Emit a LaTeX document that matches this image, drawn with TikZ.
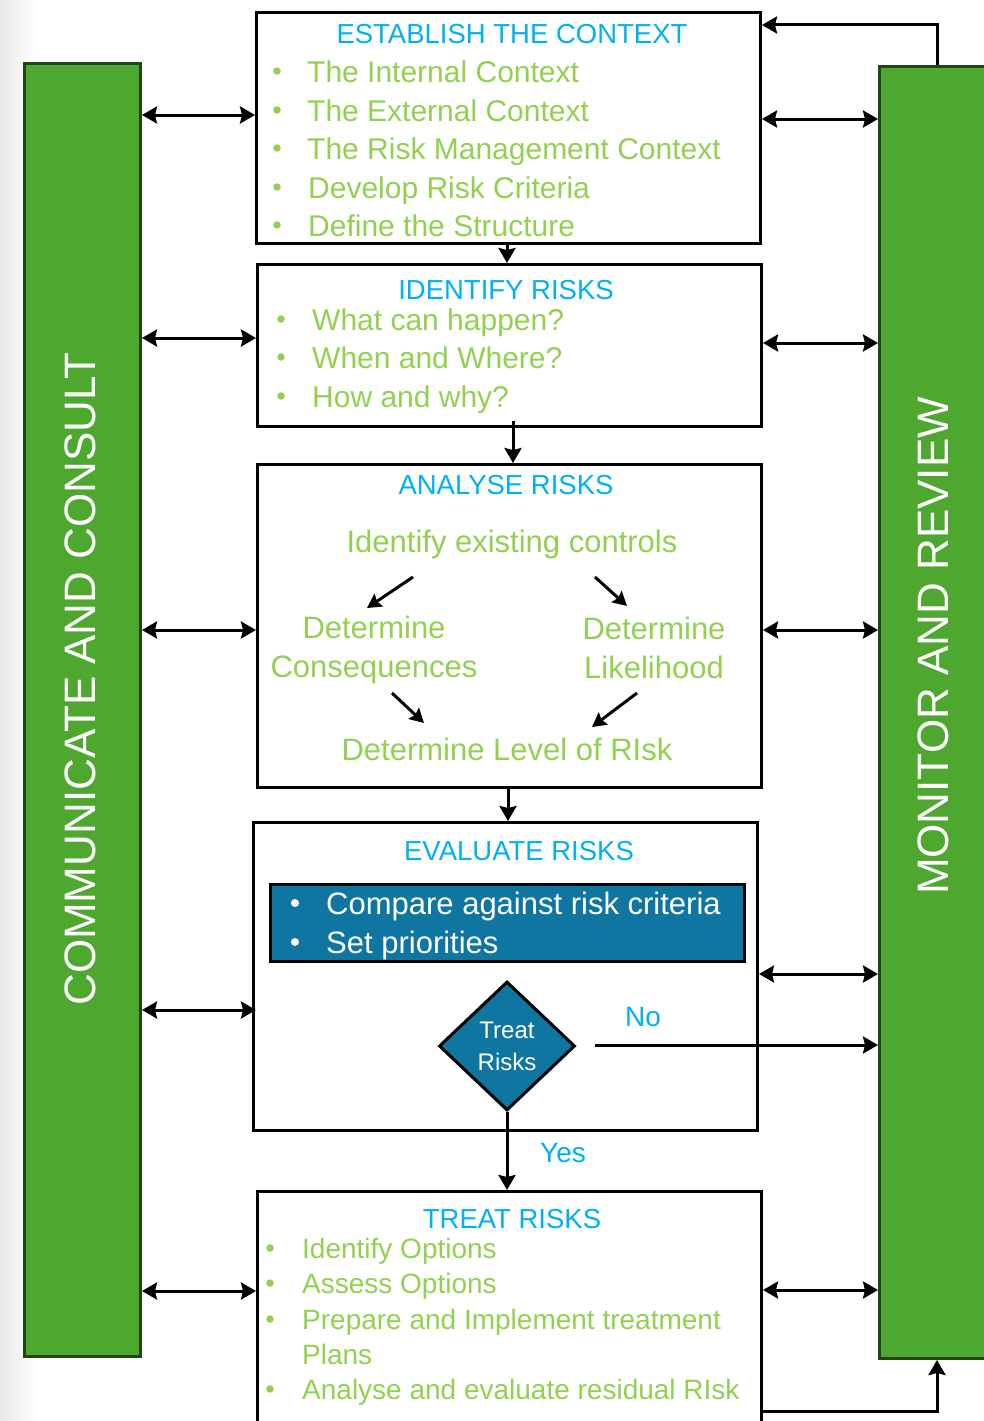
\documentclass[tikz,border=0pt]{standalone}
\usepackage{fontspec}
\setmainfont{Liberation Sans}
\usetikzlibrary{arrows.meta,shapes.geometric}
\definecolor{ttlblue}{RGB}{0,176,240}
\definecolor{lgreen}{RGB}{146,208,80}
\definecolor{bargreen}{RGB}{78,167,46}
\definecolor{bardark}{RGB}{30,72,18}
\definecolor{tealbox}{RGB}{14,118,160}
\newcommand\myfs[2]{\fontsize{#1}{#2}\selectfont}
\begin{document}
\begin{tikzpicture}[x=1pt,y=-1pt,
 box/.style={draw=black, line width=3pt, rectangle, inner sep=0, anchor=north west},
 bar/.style={draw=bardark, fill=bargreen, line width=3pt, rectangle, inner sep=0, anchor=north west},
 bartxt/.style={rotate=90, text=white, font=\myfs{44}{50}, anchor=mid, inner sep=0},
 ttl/.style={text=ttlblue, font=\myfs{27.5}{33}, anchor=mid, inner sep=0, yshift=-7.5pt},
 itm/.style={text=lgreen, font=\myfs{30}{36}, anchor=mid west, inner sep=0, yshift=-8.5pt},
 titm/.style={text=lgreen, font=\myfs{28}{34}, anchor=mid west, inner sep=0, yshift=-8pt},
 ctr/.style={text=lgreen, font=\myfs{31}{39}, inner sep=0, align=center},
 wtxt/.style={text=white, font=\myfs{31}{37}, anchor=mid west, inner sep=0, yshift=-9pt},
 dot/.style={circle, fill=lgreen, inner sep=0, minimum size=7.5pt},
 wdot/.style={circle, fill=white, inner sep=0, minimum size=8pt},
 dbl/.style={line width=3pt, {Stealth[length=15pt,width=17pt,inset=2pt]}-{Stealth[length=15pt,width=17pt,inset=2pt]}},
 arr/.style={line width=3pt, -{Stealth[length=15pt,width=17pt,inset=2pt]}},
 sarr/.style={line width=3pt, -{Stealth[length=14pt,width=15pt,inset=2pt]}},
 lbl/.style={text=ttlblue, font=\myfs{28}{34}, anchor=mid, inner sep=0, yshift=-8pt}
]
\clip (0,0) rectangle (984,1421);
\shade[left color=black!9, right color=white] (0,0) rectangle (36,1421);

% side bars
\node[bar, minimum width=116pt, minimum height=1293pt] (lbar) at (23,62) {};
\node[bar, minimum width=130pt, minimum height=1292pt] (rbar) at (878,65) {};
\node[bartxt] (ltxt) at (93,679) {COMMUNICATE AND CONSULT};
\node[bartxt] (rtxt) at (946,646) {MONITOR AND REVIEW};

% boxes
\node[box, minimum width=504pt, minimum height=231pt] (b1) at (255,11) {};
\node[box, minimum width=504pt, minimum height=162pt] (b2) at (256,263) {};
\node[box, minimum width=504pt, minimum height=323pt] (b3) at (256,463) {};
\node[box, minimum width=504pt, minimum height=308pt] (b4) at (252,821) {};
\node[box, minimum width=504pt, minimum height=260pt] (b5) at (256,1190) {};

% box 1
\node[ttl] (t1) at (512,33) {ESTABLISH THE CONTEXT};
\node[dot] (d11) at (277,71) {};  \node[itm] (i11) at (307,71) {The Internal Context};
\node[dot] (d12) at (277,110) {}; \node[itm] (i12) at (307,110) {The External Context};
\node[dot] (d13) at (277,148) {}; \node[itm] (i13) at (307,148) {The Risk Management Context};
\node[dot] (d14) at (277,187) {}; \node[itm] (i14) at (308,187) {Develop Risk Criteria};
\node[dot] (d15) at (277,225) {}; \node[itm] (i15) at (308,225) {Define the Structure};

% box 2
\node[ttl] (t2) at (506,289) {IDENTIFY RISKS};
\node[dot] (d21) at (281,319) {}; \node[itm] (i21) at (312,319) {What can happen?};
\node[dot] (d22) at (281,357) {}; \node[itm] (i22) at (312,357) {When and Where?};
\node[dot] (d23) at (281,396) {}; \node[itm] (i23) at (312,396) {How and why?};

% box 3
\node[ttl] (t3) at (506,484) {ANALYSE RISKS};
\node[ctr, anchor=mid, yshift=-9pt] (c0) at (512,541) {Identify existing controls};
\node[ctr] (c1) at (374,650) {Determine\\Consequences};
\node[ctr] (c2) at (654,648) {Determine\\Likelihood};
\node[ctr, anchor=mid, yshift=-9pt] (c3) at (507,749) {Determine Level of RIsk};
\coordinate (a1s) at (413,577); \coordinate (a1e) at (367,608);
\coordinate (a2s) at (595,577); \coordinate (a2e) at (627,606);
\coordinate (a3s) at (392,693); \coordinate (a3e) at (424,723);
\coordinate (a4s) at (637,693); \coordinate (a4e) at (592,727);
\draw[sarr] (a1s) -- (a1e);
\draw[sarr] (a2s) -- (a2e);
\draw[sarr] (a3s) -- (a3e);
\draw[sarr] (a4s) -- (a4e);

% box 4
\node[ttl] (t4) at (519,850) {EVALUATE RISKS};
\node[draw=black, line width=3pt, fill=tealbox, inner sep=0, anchor=north west,
      minimum width=474pt, minimum height=77pt] (eb) at (269,883) {};
\node[wdot] (w1) at (295,903) {};
\node[wtxt] (e1) at (326,903) {Compare against risk criteria};
\node[wdot] (w2) at (295,942) {};
\node[wtxt] (e2) at (326,942) {Set priorities};
\node[diamond, draw=black, fill=tealbox, line width=3pt, inner sep=0,
      minimum width=136pt, minimum height=129pt, text=white, align=center,
      font=\myfs{24}{32}] (dm) at (507,1046) {Treat\\Risks};
\node[lbl] (no) at (643,1016) {No};
\node[lbl] (yes) at (563,1152) {Yes};
\coordinate (nos) at (595,1045);

% box 5
\node[ttl] (t5) at (512,1218) {TREAT RISKS};
\node[dot] (d51) at (270,1248) {}; \node[titm] (i51) at (302,1248) {Identify Options};
\node[dot] (d52) at (270,1283) {}; \node[titm] (i52) at (302,1283) {Assess Options};
\node[dot] (d53) at (270,1319) {}; \node[titm] (i53) at (302,1319) {Prepare and Implement treatment};
\node[titm] (i54) at (302,1354) {Plans};
\node[dot] (d55) at (270,1389) {}; \node[titm] (i55) at (302,1389) {Analyse and evaluate residual RIsk};

% connectors between boxes
\draw[arr] (b1.south -| 507,0) -- (b2.north -| 507,0);
\draw[arr, shorten <=-7pt] (b2.south -| 513,0) -- (b3.north -| 513,0);
\draw[arr] (b3.south -| 508,0) -- (b4.north -| 508,0);
\draw[arr] (dm.south) -- (b5.north -| dm.south);
\draw[arr] (nos) -- (rbar.west |- nos);

% left arrows
\draw[dbl] (lbar.east |- 0,115) -- (b1.west |- 0,115);
\draw[dbl] (lbar.east |- 0,338) -- (b2.west |- 0,338);
\draw[dbl] (lbar.east |- 0,630) -- (b3.west |- 0,630);
\draw[dbl] (lbar.east |- 0,1010) -- ([xshift=4pt]b4.west |- 0,1010);
\draw[dbl] (lbar.east |- 0,1291) -- (b5.west |- 0,1291);

% right arrows
\draw[dbl] (b1.east |- 0,119) -- (rbar.west |- 0,119);
\draw[dbl] (b2.east |- 0,343) -- (rbar.west |- 0,343);
\draw[dbl] (b3.east |- 0,630) -- (rbar.west |- 0,630);
\draw[dbl] (b4.east |- 0,974) -- (rbar.west |- 0,974);
\draw[dbl] (b5.east |- 0,1290) -- (rbar.west |- 0,1290);

% feedback loops
\draw[arr] (rbar.north -| 937,0) |- (b1.east |- 0,25);
\draw[arr] (b5.east |- 0,1411) -| (rbar.south -| 937,0);
\end{tikzpicture}
\end{document}
